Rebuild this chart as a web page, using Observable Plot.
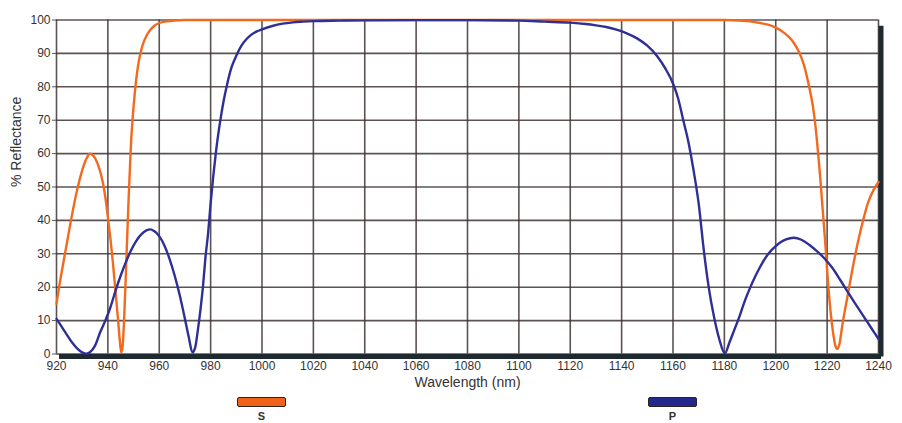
<!DOCTYPE html>
<html>
<head>
<meta charset="utf-8">
<script src="https://cdn.jsdelivr.net/npm/d3@7"></script>
<script src="https://cdn.jsdelivr.net/npm/@observablehq/plot@0.6"></script>
<style>
  body { margin: 0; background: #fff; font-family: "Liberation Sans", Arial, sans-serif; }
  #wrap { position: relative; width: 902px; height: 423px; overflow: hidden; }
  #chart svg { display: block; }
  .sw { position: absolute; top: 397px; width: 47px; height: 8px; border: 1px solid #2a2420; border-radius: 2px; }
  .lab { position: absolute; top: 410px; width: 40px; height: 12px; line-height: 12px; text-align: center; font-size: 11px; font-weight: bold; color: #333; }
</style>
</head>
<body>
<div id="wrap">
  <div id="chart"></div>
  <div id="legend"></div>
</div>
<script>
// ---- data ----
const sWavelength = [920, 921, 922, 924, 926, 928, 930, 932, 933, 934, 936, 938, 939, 940, 941, 942, 943, 944, 944.7, 945.2, 945.7, 946.3, 947, 948, 949, 950, 951, 952, 953, 954, 955, 956, 958, 960, 963, 966, 970, 1020, 1080, 1140, 1180, 1186, 1190, 1194, 1197, 1200, 1203, 1205, 1207, 1209, 1211, 1213, 1214.5, 1215.5, 1216.5, 1217.3, 1218.3, 1219.3, 1220.3, 1221.3, 1222.3, 1223.2, 1224, 1224.8, 1226, 1228, 1230, 1232, 1234, 1236, 1238, 1240];
const sReflectance = [15, 20, 24.5, 33, 41.5, 49, 55, 59, 60, 59.6, 57, 51.5, 47, 41, 34.5, 27, 18.5, 10, 3.5, 0.5, 2, 10, 24, 45, 63, 74, 82, 87.5, 91, 93.5, 95.2, 96.5, 98.2, 99.1, 99.6, 99.85, 100, 100, 100, 100, 100, 99.8, 99.6, 99.1, 98.6, 97.7, 96.3, 95, 93.2, 90.5, 86.5, 80, 74, 68, 60, 53, 43, 33, 22, 13, 6.5, 2.5, 1.5, 3, 9, 17.5, 26, 33.5, 40, 45.5, 49, 51.5];

const pWavelength = [920, 922, 924, 926, 928, 930, 931.7, 933, 935, 937, 939, 941, 943, 945, 947, 949, 951, 953, 955, 956.6, 958, 960, 962, 964, 966, 968, 970, 971.5, 972.9, 974, 975, 976, 977, 978, 979, 980, 981, 982, 983, 984, 985, 986.5, 988, 990, 992, 994, 996, 998, 1000, 1004, 1008, 1012, 1016, 1020, 1030, 1040, 1060, 1080, 1100, 1110, 1120, 1126, 1130, 1134, 1138, 1142, 1146, 1150, 1154, 1157, 1160, 1162, 1164, 1166, 1168, 1170, 1172, 1174, 1176, 1178, 1180.2, 1182, 1184, 1186, 1188, 1190, 1192, 1194, 1196, 1198, 1200, 1202, 1204, 1207, 1210, 1213, 1216, 1219, 1222, 1225, 1228, 1231, 1234, 1237, 1240];
const pReflectance = [10.5, 8.2, 5.8, 3.5, 1.7, 0.5, 0.1, 0.5, 2.5, 6.5, 10, 14, 19, 23.5, 27.5, 31, 33.8, 35.8, 37, 37.3, 36.8, 35.3, 32.5, 28.5, 23.5, 17.5, 10.5, 5, 0.5, 2, 7, 13, 20, 29, 36, 45, 53, 60, 66, 71, 75.5, 81, 85.5, 89.3, 92.3, 94.3, 95.7, 96.6, 97.2, 98.2, 98.9, 99.3, 99.5, 99.65, 99.8, 99.9, 99.95, 99.95, 99.8, 99.5, 99.2, 98.8, 98.4, 97.9, 97.1, 96, 94.5, 92.3, 89, 85.5, 81, 76.5, 70, 63.5, 55, 45, 31, 19.5, 11, 4.5, 0.2, 3.5, 7.5, 11.5, 16, 19.8, 23.2, 26.2, 28.8, 30.8, 32.3, 33.5, 34.3, 34.8, 34.2, 32.7, 30.8, 28.6, 25.8, 22.3, 18.6, 15, 11.5, 8, 4.5];

const seriesNames = ["S", "P"];
const xTicks = [920, 940, 960, 980, 1000, 1020, 1040, 1060, 1080, 1100, 1120, 1140, 1160, 1180, 1200, 1220, 1240];
const yTicks = [0, 10, 20, 30, 40, 50, 60, 70, 80, 90, 100];
const xLabel = "Wavelength (nm)";
const yLabel = "% Reflectance";

// ---- styles ----
const colors = { S: "#f26a1e", P: "#2f2f96" };
const swatchColors = { S: "#ef6418", P: "#24288c" };

const sData = sWavelength.map((x, i) => ({ x, y: sReflectance[i] }));
const pData = pWavelength.map((x, i) => ({ x, y: pReflectance[i] }));

const chart = Plot.plot({
  width: 902,
  height: 392,
  marginLeft: 56,
  marginRight: 24,
  marginTop: 19.5,
  marginBottom: 38.5,
  style: { fontFamily: "'Liberation Sans', Arial, sans-serif", fontSize: "12px", color: "#333", background: "#fff" },
  x: { domain: [920, 1240] },
  y: { domain: [0, 100] },
  marks: [
    Plot.gridX(xTicks, { stroke: "#3e3434", strokeOpacity: 0.85, strokeWidth: 1.6 }),
    Plot.gridY(yTicks, { stroke: "#3e3434", strokeOpacity: 0.85, strokeWidth: 1.6 }),
    Plot.axisX({ ticks: xTicks, tickSize: 0, tickPadding: 7, label: null, fill: "#333", tickFormat: d => String(d) }),
    Plot.axisY({ ticks: yTicks, tickSize: 4, tickPadding: 2, label: null, fill: "#333", stroke: "#555", tickFormat: d => String(d) }),
    Plot.ruleY([0], { x1: 920, x2: 1240, stroke: "#1e2a30", strokeWidth: 5, dx: 3, dy: 2.5 }),
    Plot.ruleX([1240], { y1: 0, y2: 99, stroke: "#1e2a30", strokeWidth: 5, dx: 2.5, dy: 3 }),
    Plot.line(sData, { x: "x", y: "y", stroke: colors.S, strokeWidth: 2.4, curve: "monotone-x" }),
    Plot.line(pData, { x: "x", y: "y", stroke: colors.P, strokeWidth: 2.4, curve: "monotone-x" }),
    Plot.text([xLabel], { frameAnchor: "bottom", text: d => d, dy: 33, fontSize: 14, fill: "#333" }),
    Plot.text([yLabel], { frameAnchor: "left", text: d => d, rotate: -90, dx: -40, fontSize: 14, fill: "#333" })
  ]
});
document.getElementById("chart").appendChild(chart);

// legend (HTML, below the SVG)
const legendPos = { S: 237, P: 648 };
const legend = document.getElementById("legend");
seriesNames.forEach(name => {
  const sw = document.createElement("div");
  sw.className = "sw";
  sw.style.left = legendPos[name] + "px";
  sw.style.background = swatchColors[name];
  legend.appendChild(sw);
  const lb = document.createElement("div");
  lb.className = "lab";
  lb.style.left = (legendPos[name] + 24.5 - 20) + "px";
  lb.textContent = name;
  legend.appendChild(lb);
});
</script>
</body>
</html>
